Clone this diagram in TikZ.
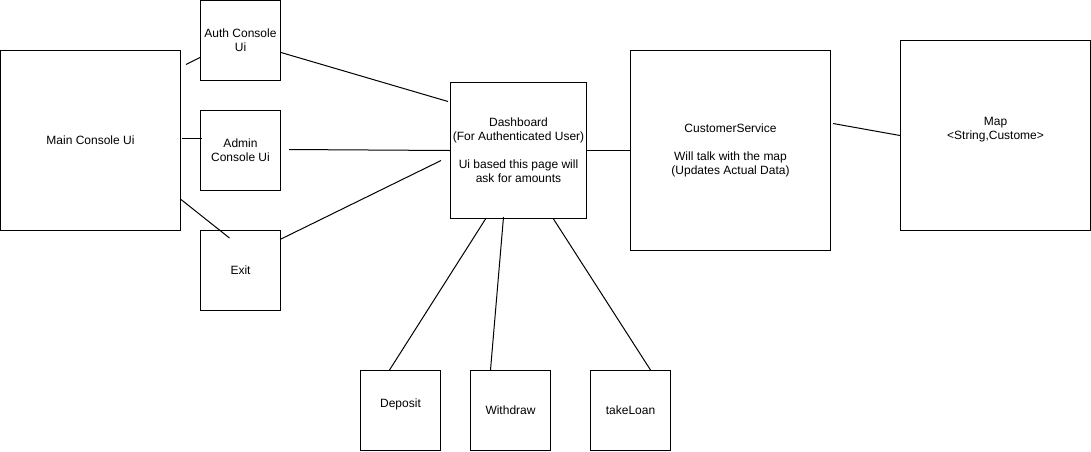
\documentclass[tikz,border=0pt]{standalone}
\usepackage{fontspec}
\setmainfont{Liberation Sans}
\usetikzlibrary{positioning, calc}

\begin{document}
\begin{tikzpicture}[x=1pt, y=-1pt,
    box/.style={draw, line width=1pt, minimum width=#1, minimum height=#1,
      inner sep=0pt, align=center, font=\fontsize{12}{14}\selectfont},
    link/.style={line width=1pt}]
  \useasboundingbox (-0.5,-0.5) rectangle (1090.5,450.5);

  % console screens
  \node[box=180pt] (main) at (90,140) {Main Console Ui};
  \node[box=80pt] (auth) at (240,40) {Auth Console\\Ui};
  \node[box=80pt] (admin) at (240,150) {Admin\\Console Ui};
  \node[box=80pt] (exit) at (240,270) {Exit};

  % dashboard and service layer
  \node[box=136pt] (dash) at (518,150) {Dashboard\\(For Authenticated User)\\[14pt]Ui based this page will\\ask for amounts};
  \node[box=200pt] (cs) at (730,150) {CustomerService\\[14pt]Will talk with the map\\(Updates Actual Data)};
  \node[box=190pt] (map) at (995,135) {Map\\<String,Custome>\\\mbox{}};

  % actions
  \node[box=80pt] (deposit) at (400,410) {Deposit\\\mbox{}};
  \node[box=80pt] (withdraw) at (510,410) {Withdraw};
  \node[box=80pt] (loan) at (630,410) {takeLoan};

  % main console links
  \draw[link] ($(main.east)+(5,-76)$) -- ($(auth.west)+(0,17)$);
  \draw[link] ($(main.east)+(1,-2)$) -- ($(admin.west)+(2,-12)$);
  \draw[link] ($(main.east)+(0,59)$) -- ($(exit.north)+(-11,8)$);

  % into the dashboard
  \draw[link] ($(auth.east)+(0,12)$) -- ($(dash.west)+(-2,-49)$);
  \draw[link] ($(admin.east)+(8,-1)$) -- (dash.west);
  \draw[link] ($(exit.east)+(-1,-31)$) -- ($(dash.west)+(-9,10)$);
  \draw[link] (dash.east) -- (cs.west);
  \draw[link] ($(cs.east)+(2,-27)$) -- (map.west);

  % dashboard actions
  \draw[link] ($(dash.south)+(-33,0)$) -- ($(deposit.north)+(-11,0)$);
  \draw[link] ($(dash.south)+(-15,-2)$) -- ($(withdraw.north)+(-20,0)$);
  \draw[link] ($(dash.south)+(35,0)$) -- ($(loan.north)+(20,0)$);
\end{tikzpicture}
\end{document}
